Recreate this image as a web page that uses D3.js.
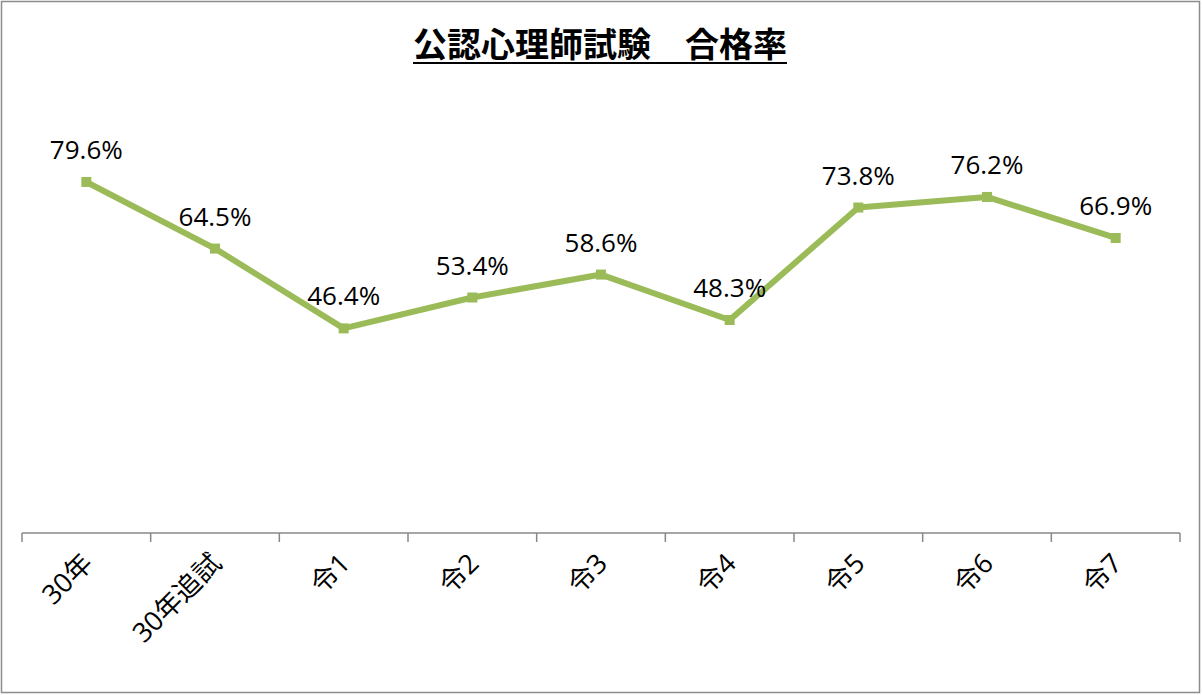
<!DOCTYPE html>
<html><head><meta charset="utf-8">
<script src="https://cdn.jsdelivr.net/npm/d3@7"></script>
<style>body{margin:0;background:#fff}</style>
</head><body><div id="chart"></div>
<script>
const categories = ["30年","30年追試","令1","令2","令3","令4","令5","令6","令7"];
const rates = [79.6, 64.5, 46.4, 53.4, 58.6, 48.3, 73.8, 76.2, 66.9];
const title = "公認心理師試験　合格率";

const W = 1202, H = 695;
const font = "'Open Sans','Noto Sans CJK JP',sans-serif";
const svg = d3.select("#chart").append("svg").attr("width", W).attr("height", H);

svg.append("rect").attr("x", 1.5).attr("y", 1.5).attr("width", W - 4).attr("height", H - 4)
  .attr("fill", "#fff").attr("stroke", "#8c8c8c").attr("stroke-width", 1.5);

const x = d3.scaleBand().domain(categories).range([22, 1180]);
const y = d3.scaleLinear().domain([0, 100]).range([533, 92]);

// title
const t = svg.append("text").attr("x", 600).attr("y", 57).attr("text-anchor", "middle")
  .style("font-family", font).style("font-size", "34px").style("font-weight", "bold")
  .text(title);
const bb = t.node().getBBox();
svg.append("line").attr("x1", bb.x).attr("x2", bb.x + bb.width).attr("y1", 63).attr("y2", 63)
  .attr("stroke", "#000").attr("stroke-width", 2);

// x axis
const ax = svg.append("g").attr("transform", "translate(0,533)");
ax.append("line").attr("x1", 22).attr("x2", 1180).attr("stroke", "#888").attr("stroke-width", 1.5);
ax.selectAll(".tk").data(categories.concat([null])).join("line")
  .attr("x1", (d, i) => 22 + i * x.step()).attr("x2", (d, i) => 22 + i * x.step())
  .attr("y1", 0).attr("y2", 9).attr("stroke", "#888").attr("stroke-width", 1.5);
ax.selectAll("text").data(categories).join("text")
  .attr("transform", d => `translate(${x(d) + x.bandwidth() / 2 + 8},32) rotate(-45)`)
  .attr("text-anchor", "end")
  .style("font-family", font).style("font-size", "27px")
  .text(d => d);

// line
const line = d3.line().x((d, i) => x(categories[i]) + x.bandwidth() / 2).y(d => y(d));
svg.append("path").datum(rates).attr("d", line).attr("fill", "none")
  .attr("stroke", "#9bbb59").attr("stroke-width", 6).attr("stroke-linejoin", "round");
svg.selectAll(".mk").data(rates).join("rect")
  .attr("x", (d, i) => x(categories[i]) + x.bandwidth() / 2 - 5).attr("y", d => y(d) - 5)
  .attr("width", 10).attr("height", 10).attr("fill", "#9bbb59");
svg.selectAll(".lb").data(rates).join("text")
  .attr("x", (d, i) => x(categories[i]) + x.bandwidth() / 2).attr("y", d => y(d) - 23)
  .attr("text-anchor", "middle")
  .style("font-family", font).style("font-size", "26px")
  .text(d => d.toFixed(1) + "%");
</script></body></html>
